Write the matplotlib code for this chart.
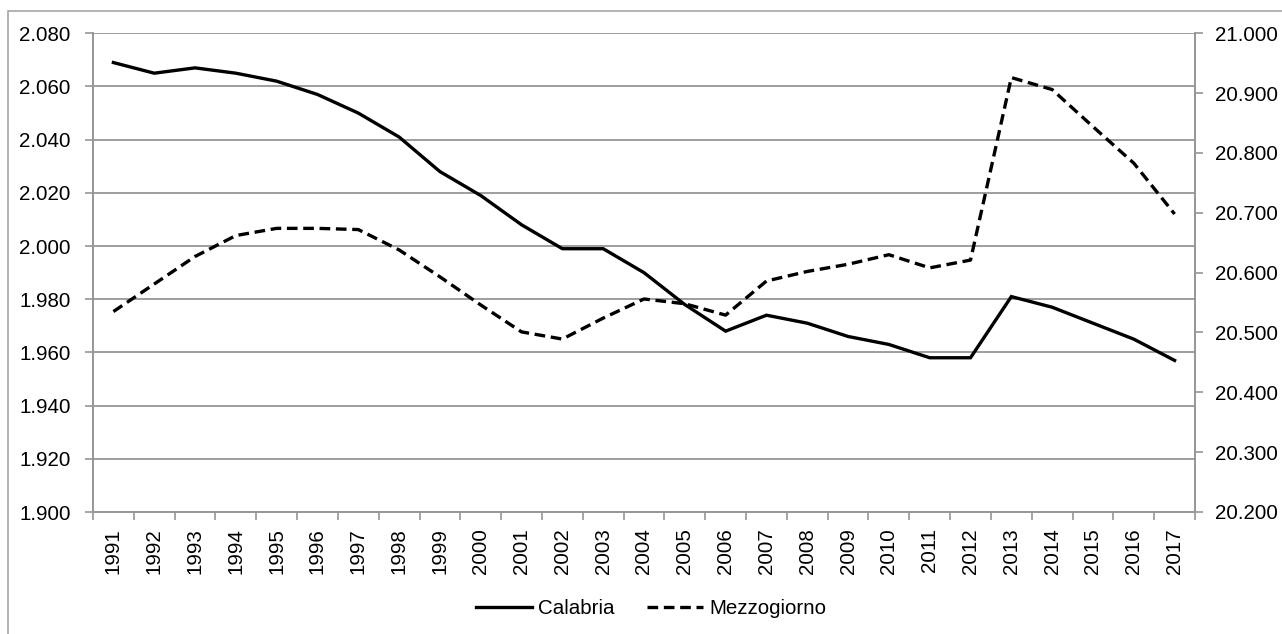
import matplotlib
matplotlib.use('Agg')
import matplotlib.pyplot as plt
from matplotlib.ticker import FuncFormatter, FixedLocator
from matplotlib.patches import Rectangle
from matplotlib.lines import Line2D

plt.rcParams['font.family'] = ['Liberation Sans', 'DejaVu Sans']

years = [str(y) for y in range(1991, 2018)]
# resident population, thousands
calabria = [2069, 2065, 2067, 2065, 2062, 2057, 2050, 2041, 2028, 2019,
            2008, 1999, 1999, 1990, 1978, 1968, 1974, 1971, 1966, 1963,
            1958, 1958, 1981, 1977, 1971, 1965, 1957]
mezzogiorno = [20535, 20581, 20627, 20662, 20674, 20674, 20672, 20638, 20593, 20546,
               20501, 20489, 20524, 20556, 20548, 20529, 20586, 20602, 20614, 20630,
               20608, 20621, 20926, 20906, 20844, 20783, 20698]

W, H = 1282, 634
fig = plt.figure(figsize=(W / 100, H / 100), dpi=100)

# chart frame (only top and left edges visible)
fig.patches.append(Rectangle((8 / W, -0.1), 1.2, (H - 11) / H + 0.1, transform=fig.transFigure,
                             fill=False, edgecolor='#a6a6a6', linewidth=1.2))

x0, x1, ytop, ybot = 93, 1195, 33.3, 512
ax = fig.add_axes([x0 / W, (H - ybot) / H, (x1 - x0) / W, (ybot - ytop) / H])
ax2 = ax.twinx()

gray = '#969696'
fs = 14.8
fmt = FuncFormatter(lambda v, p: f'{v:,.0f}'.replace(',', '.'))
xs = list(range(len(years)))
dash = (0, (3.2, 1.7))

ax.plot(xs, calabria, color='black', lw=2.4, solid_joinstyle='miter')
ax2.plot(xs, mezzogiorno, color='black', lw=2.4, linestyle=dash)

ax.set_xlim(-0.5, len(years) - 0.5)
ax.set_ylim(1900, 2080)
ax.set_yticks(range(1900, 2081, 20))
ax.yaxis.set_major_formatter(fmt)
ax.grid(axis='y', color=gray, lw=1.3)
ax.set_axisbelow(True)

ax2.set_ylim(20200, 21000)
ax2.set_yticks(range(20200, 21001, 100))
ax2.yaxis.set_major_formatter(fmt)

ax.set_xticks(xs)
ax.set_xticklabels(years, rotation=90)
ax.xaxis.set_minor_locator(FixedLocator([i - 0.5 for i in range(len(years) + 1)]))
ax.tick_params(axis='x', which='major', length=0, pad=11.5, labelsize=fs)
ax.tick_params(axis='x', which='minor', length=6, width=1.2, color=gray, direction='out')
ax.tick_params(axis='y', length=6, width=1.2, color=gray, direction='out', labelsize=fs, pad=10)
ax2.tick_params(axis='y', length=6, width=1.2, color=gray, direction='out', labelsize=fs, pad=8.5)

for a in (ax, ax2):
    a.spines['top'].set_visible(False)
    for s in ('left', 'right', 'bottom'):
        a.spines[s].set_color(gray)
        a.spines[s].set_linewidth(1.2)

handles = [Line2D([], [], color='black', lw=2.4),
           Line2D([], [], color='black', lw=2.4, linestyle=dash)]
fig.legend(handles, ['Calabria', 'Mezzogiorno'], loc='center', bbox_to_anchor=(0.508, (H - 609) / H),
           ncol=2, frameon=False, fontsize=fs, handlelength=2.7, handletextpad=0.3, columnspacing=1.6)

fig.savefig('out.png', dpi=100)
